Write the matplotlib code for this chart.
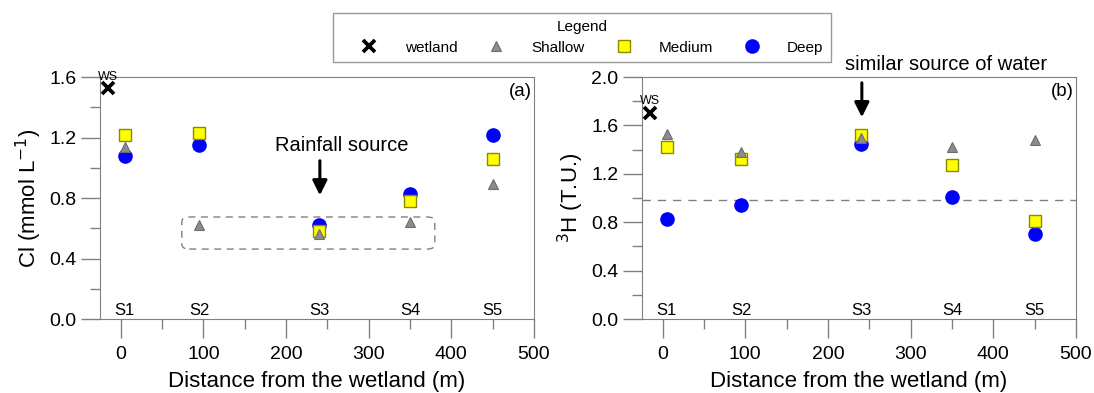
import numpy as np
import matplotlib
matplotlib.use('Agg')
import matplotlib.pyplot as plt
from matplotlib.patches import FancyBboxPatch
from matplotlib.ticker import MultipleLocator

plt.rcParams['font.family'] = ['Liberation Sans', 'DejaVu Sans']

# Data
#####################################################
sites = ['S1', 'S2', 'S3', 'S4', 'S5']
dist = [5, 95, 240, 350, 450]
ws_dist = -15

cl_ws = 1.53
cl_shallow = [1.14, 0.62, 0.56, 0.64, 0.89]
cl_medium = [1.22, 1.23, 0.58, 0.78, 1.06]
cl_deep = [1.08, 1.15, 0.62, 0.83, 1.22]

h3_ws = 1.70
h3_shallow = [1.53, 1.38, 1.50, 1.42, 1.48]
h3_medium = [1.42, 1.32, 1.52, 1.27, 0.81]
h3_deep = [0.83, 0.94, 1.45, 1.01, 0.70]
h3_rain = 0.98

grey = '#808080'

# Plotting
#####################################################
fig = plt.figure(figsize=(10.94, 3.93), dpi=100)
ax1 = fig.add_axes([0.0914, 0.188, 0.3967, 0.616])
ax2 = fig.add_axes([0.5868, 0.188, 0.3967, 0.616])


def draw_panel(ax, ws, shallow, medium, deep, ylim, ylabel, tag):
  ax.plot(dist, deep, 'o', ms=9.5, mfc='#0000ff', mec='#0000ff', zorder=3)
  ax.plot(dist, medium, 's', ms=9, mfc='#ffff00', mec='#8a8a00', mew=1, zorder=4)
  ax.plot(dist, shallow, '^', ms=7.5, mfc='#8c8c8c', mec='#6e6e6e', mew=0.8, zorder=5)
  ax.plot([ws_dist], [ws], 'x', ms=8, mec='black', mew=2.7, zorder=5, clip_on=False)
  ax.set_xlim(-25, 500)
  ax.set_ylim(*ylim)
  ax.xaxis.set_major_locator(MultipleLocator(100))
  ax.xaxis.set_minor_locator(MultipleLocator(50))
  ax.yaxis.set_major_locator(MultipleLocator(0.4))
  ax.yaxis.set_minor_locator(MultipleLocator(0.2))
  ax.yaxis.set_major_formatter('{x:.1f}')
  ax.tick_params(which='major', direction='out', length=14, width=1, color=grey,
                 labelsize=14)
  ax.tick_params(axis='x', which='major', pad=5)
  ax.tick_params(axis='y', which='major', pad=3)
  ax.tick_params(which='minor', direction='out', length=7, width=1, color=grey)
  for sp in ax.spines.values():
    sp.set_color(grey)
  ax.set_xlabel('Distance from the wetland (m)', fontsize=16, labelpad=6)
  ax.set_ylabel(ylabel, fontsize=16, labelpad=4)
  for s, d in zip(sites, dist):
    ax.text(d, ylim[0] + 0.01, s, ha='center', va='bottom', fontsize=12)
  ax.text(0.995, 0.975, tag, transform=ax.transAxes, ha='right', va='top', fontsize=13.5)


draw_panel(ax1, cl_ws, cl_shallow, cl_medium, cl_deep, (0, 1.6),
           'Cl (mmol L$^{-1}$)', '(a)')
draw_panel(ax2, h3_ws, h3_shallow, h3_medium, h3_deep, (0, 2.0),
           '$^{3}$H (T.U.)', '(b)')

# WS labels
ax1.text(ws_dist, 1.6, 'WS', ha='center', va='center', fontsize=9, clip_on=False)
ax2.text(ws_dist, 1.8, 'WS', ha='center', va='center', fontsize=9)

# Panel (a) annotations
ax1.text(267, 1.15, 'Rainfall source', ha='center', va='center', fontsize=14.5)
ax1.annotate('', xy=(241, 0.80), xytext=(241, 1.065),
             arrowprops=dict(arrowstyle='-|>', color='black', lw=2.2, mutation_scale=22))
box = FancyBboxPatch((74, 0.463), 306, 0.212,
                     boxstyle='round,pad=0,rounding_size=9',
                     mutation_aspect=0.0035,
                     fill=False, ec=grey, ls=(0, (5, 4)), lw=1)
ax1.add_patch(box)

# Panel (b) annotations
ax2.axhline(h3_rain, color=grey, ls=(0, (6, 5)), lw=1)
ax2.text(343, 2.10, 'similar source of water', ha='center', va='center',
         fontsize=14.5, clip_on=False)
ax2.annotate('', xy=(241, 1.645), xytext=(241, 1.975),
             arrowprops=dict(arrowstyle='-|>', color='black', lw=2.2, mutation_scale=22))

# Legend
h_ws, = ax1.plot([], [], 'x', ms=8, mec='black', mew=2.7)
h_sh, = ax1.plot([], [], '^', ms=7.5, mfc='#8c8c8c', mec='#6e6e6e', mew=0.8)
h_md, = ax1.plot([], [], 's', ms=9, mfc='#ffff00', mec='#8a8a00', mew=1)
h_dp, = ax1.plot([], [], 'o', ms=9.5, mfc='#0000ff', mec='#0000ff')
leg = fig.legend([h_ws, h_sh, h_md, h_dp], ['wetland', 'Shallow', 'Medium', 'Deep'],
                 ncol=4, title='Legend', loc='center', bbox_to_anchor=(0.532, 0.905),
                 fontsize=11, title_fontsize=11, frameon=True, fancybox=False,
                 edgecolor=grey, handlelength=3.8, handletextpad=0.4,
                 columnspacing=0.65, borderpad=0.46, labelspacing=0.45)
leg.get_frame().set_linewidth(1)

fig.savefig('out.png', dpi=100)
